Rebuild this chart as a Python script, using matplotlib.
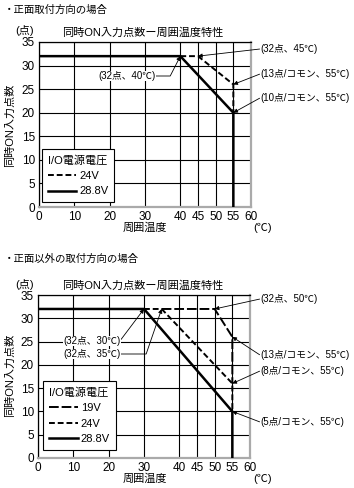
import matplotlib
matplotlib.use("Agg")
import matplotlib.pyplot as plt

plt.rcParams['font.family'] = ['Liberation Sans', 'Noto Sans CJK JP', 'DejaVu Sans']
plt.rcParams['axes.unicode_minus'] = False

W, H = 354, 488

# 目盛り
x_ticks = [0, 10, 20, 30, 40, 45, 50, 55, 60]
y_ticks = [0, 5, 10, 15, 20, 25, 30, 35]

# 正面取付 (温度, 点数)
top_288_t = [0, 40, 55, 55]
top_288_n = [32, 32, 20, 0]
top_24_t = [40, 45, 55, 55]
top_24_n = [32, 32, 26, 20]

# 正面以外の取付
bot_288_t = [0, 30, 55, 55]
bot_288_n = [32, 32, 10, 0]
bot_24_t = [30, 35, 55, 55]
bot_24_n = [32, 32, 16, 10]
bot_19_t = [35, 50, 55, 55]
bot_19_n = [32, 32, 26, 16]

TITLE = "同時ON入力点数ー周囲温度特性"
YLAB = "同時ON入力点数"
XLAB = "周囲温度"


def fp(x, y):
    # 左上基準のピクセル -> figure fraction
    return (x / W, 1 - y / H)


def make_axes(fig, left, right, top, bottom):
    ax = fig.add_axes([left / W, 1 - bottom / H, (right - left) / W, (bottom - top) / H])
    ax.set_xlim(0, 60)
    ax.set_ylim(0, 35)
    ax.set_xticks(x_ticks)
    ax.set_yticks(y_ticks)
    ax.tick_params(length=0, labelsize=8.5, pad=3)
    ax.grid(True, color="black", linewidth=0.8)
    ax.set_axisbelow(True)
    for s in ["left", "top"]:
        ax.spines[s].set_color("black")
        ax.spines[s].set_linewidth(0.9)
    for s in ["right", "bottom"]:
        ax.spines[s].set_color("#aaaaaa")
        ax.spines[s].set_linewidth(1.6)
    return ax


def note(ax, text, xy, xytext, relpos=(0, 0.5), conn="arc3", ha="left"):
    ax.annotate(text, xy=xy, xytext=xytext, textcoords="figure fraction",
                fontsize=7, ha=ha, va="center",
                bbox=dict(facecolor="white", edgecolor="none", pad=0.3),
                arrowprops=dict(arrowstyle="-|>", color="black", lw=0.6,
                                mutation_scale=6, shrinkA=0, shrinkB=0,
                                relpos=relpos, connectionstyle=conn),
                zorder=6)


def decorate(fig, ax, ytop, ybottom, ylab_y, xtick_y):
    fig.text(*fp(25, ytop - 11), "(点)", fontsize=8, ha="center", va="center")
    fig.text(*fp(143, ytop - 9), TITLE, fontsize=8, ha="center", va="center")
    fig.text(*fp(10, ylab_y), YLAB, fontsize=8, rotation=90, ha="center", va="center")
    fig.text(*fp(145, xtick_y + 12), XLAB, fontsize=8, ha="center", va="center")
    fig.text(*fp(263, xtick_y + 12), "(℃)", fontsize=8, ha="center", va="center")


def add_legend(ax, anchor):
    leg = ax.legend(loc="lower left", bbox_to_anchor=anchor, title="I/O電源電圧",
                    fontsize=8, title_fontsize=8, alignment="left",
                    handlelength=2.6, handletextpad=0.3, borderpad=0.5,
                    labelspacing=0.5, fancybox=False, edgecolor="black",
                    framealpha=1, borderaxespad=0)
    leg.get_frame().set_linewidth(0.8)
    leg.set_zorder(7)
    return leg


fig = plt.figure(figsize=(W / 100, H / 100), dpi=100)

fig.text(*fp(4, 10), "・正面取付方向の場合", fontsize=7.5, ha="left", va="center")
fig.text(*fp(4, 259), "・正面以外の取付方向の場合", fontsize=7.5, ha="left", va="center")

# ---- 上段: 正面取付 ----
ax1 = make_axes(fig, 39, 251, 42, 207)
ax1.plot(top_24_t, top_24_n, color="black", lw=1.4, linestyle=(0, (3, 1.5)), label="24V", zorder=3)
ax1.plot(top_288_t, top_288_n, color="black", lw=1.8, label="28.8V", zorder=4)
decorate(fig, ax1, 42, 207, 125, 216)

note(ax1, "(32点、45℃)", (45, 32), fp(260, 49))
note(ax1, "(13点/コモン、55℃)", (55, 26), fp(260, 74))
note(ax1, "(10点/コモン、55℃)", (55, 20), fp(260, 98))
note(ax1, "(32点、40℃)", (40, 32), fp(127, 76), relpos=(1, 0.5),
     conn="angle,angleA=0,angleB=63,rad=0", ha="center")

add_legend(ax1, (0.014, 0.03))

# ---- 下段: 正面以外 ----
ax2 = make_axes(fig, 38, 250, 295, 458)
ax2.plot(bot_19_t, bot_19_n, color="black", lw=1.4, linestyle=(0, (5, 1.5)), label="19V", zorder=3)
ax2.plot(bot_24_t, bot_24_n, color="black", lw=1.4, linestyle=(0, (3, 1.5)), label="24V", zorder=3)
ax2.plot(bot_288_t, bot_288_n, color="black", lw=1.8, label="28.8V", zorder=4)
decorate(fig, ax2, 295, 458, 375, 467)

note(ax2, "(32点、50℃)", (50, 32), fp(260, 299))
note(ax2, "(13点/コモン、55℃)", (55, 26), fp(260, 355))
note(ax2, "(8点/コモン、55℃)", (55, 16), fp(260, 371))
note(ax2, "(5点/コモン、55℃)", (55, 10), fp(260, 422))
note(ax2, "(32点、30℃)", (30, 32), fp(92, 341), relpos=(1, 0.6), ha="center")
note(ax2, "(32点、35℃)", (35, 32), fp(92, 354), relpos=(1, 0.5),
     conn="angle,angleA=0,angleB=71,rad=0", ha="center")

add_legend(ax2, (0.024, 0.05))

fig.savefig("out.png", dpi=100)
